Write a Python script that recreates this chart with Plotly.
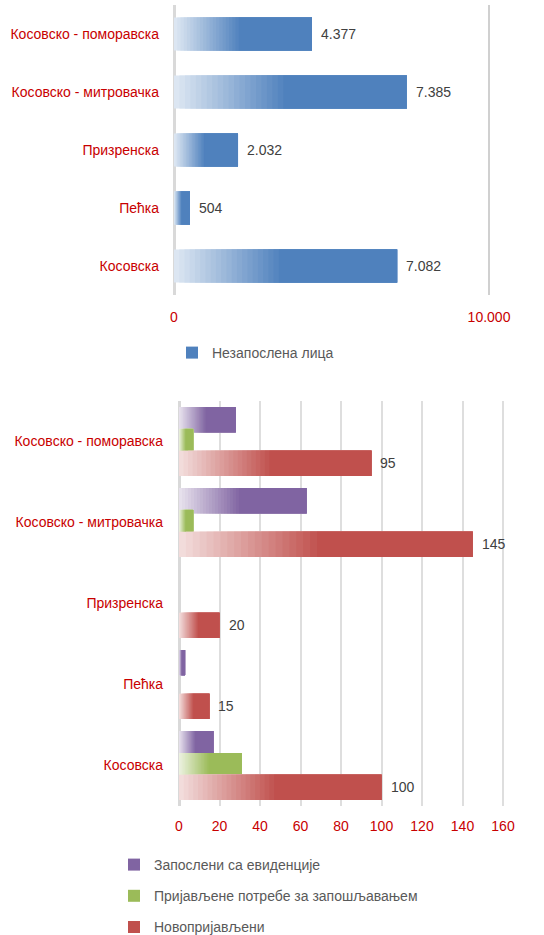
import plotly.graph_objects as go

# ---------------- data ----------------
regions = ["Косовско - поморавска", "Косовско - митровачка", "Призренска", "Пећка", "Косовска"]
unemployed = [4377, 7385, 2032, 504, 7082]          # Незапослена лица
employed_from_register = [28, 63, 0, 3, 17]         # Запослени са евиденције
registered_needs = [7, 7, 0, 0, 31]                 # Пријављене потребе за запошљавањем
newly_registered = [95, 145, 20, 15, 100]           # Новопријављени

top_ticks = [0, 10000]
bottom_ticks = [0, 20, 40, 60, 80, 100, 120, 140, 160]

# ---------------- style ----------------
W, H = 544, 935
FONT = "Liberation Sans, Arial, sans-serif"
FS = 14
RED_TXT = "#c80000"
GRAY_TXT = "#595959"
VAL_TXT = "#404040"
N_GRAD = 20
GRAD_FRAC = 0.47


def hex2rgb(h):
    h = h.lstrip("#")
    return tuple(int(h[i:i + 2], 16) for i in (0, 2, 4))


def blend(c1, c2, t):
    a, b = hex2rgb(c1), hex2rgb(c2)
    return "#%02x%02x%02x" % tuple(round(a[i] + (b[i] - a[i]) * t) for i in range(3))


def fmt(v):
    return f"{v:,}".replace(",", ".")


def px_x(p):
    return p / W


def px_y(p):
    return 1 - p / H


fig = go.Figure()


def gradient_bars(vals, light, solid, xaxis, yaxis, width, offset, name, legend, group):
    # each layer starts further right and runs to the bar end, so later layers
    # cover earlier ones without seams
    step = GRAD_FRAC / N_GRAD
    for k in range(N_GRAD):
        col = blend(light, solid, k / N_GRAD)
        fig.add_trace(go.Bar(
            y=regions, x=[v * (1 - step * k) for v in vals], base=[v * step * k for v in vals],
            orientation="h", width=width, offset=offset,
            marker=dict(color=col, line=dict(width=0)),
            xaxis=xaxis, yaxis=yaxis, showlegend=False, legendgroup=group,
            hoverinfo="skip"))
    fig.add_trace(go.Bar(
        y=regions, x=[v * (1 - GRAD_FRAC) for v in vals], base=[v * GRAD_FRAC for v in vals],
        orientation="h", width=width, offset=offset, name=name,
        marker=dict(color=solid, line=dict(width=0)),
        xaxis=xaxis, yaxis=yaxis, showlegend=True, legend=legend, legendgroup=group))


# top chart
gradient_bars(unemployed, "#dce6f2", "#4f81bd", "x", "y", 0.57, -0.285,
              "Незапослена лица", "legend", "u")

# bottom chart
BW = 0.31
gradient_bars(employed_from_register, "#e6e0ec", "#8064a2", "x2", "y2", BW, -0.425,
              "Запослени са евиденције", "legend2", "e")
gradient_bars(registered_needs, "#ebf1de", "#9bbb59", "x2", "y2", BW, -0.155,
              "Пријављене потребе за запошљавањем", "legend2", "n")
gradient_bars(newly_registered, "#f2dcdb", "#c0504d", "x2", "y2", BW, 0.115,
              "Новопријављени", "legend2", "r")

annotations = []
for i, v in enumerate(unemployed):
    annotations.append(dict(x=v, y=i, xref="x", yref="y", text=fmt(v), showarrow=False,
                            xanchor="left", xshift=7, font=dict(family=FONT, size=FS, color=VAL_TXT)))
for i, v in enumerate(newly_registered):
    annotations.append(dict(x=v, y=i + 0.27, xref="x2", yref="y2", text=fmt(v), showarrow=False,
                            xanchor="left", xshift=7, font=dict(family=FONT, size=FS, color=VAL_TXT)))

axis_font = dict(family=FONT, size=FS, color=RED_TXT)

fig.update_layout(
    width=W, height=H,
    margin=dict(l=0, r=0, t=0, b=0, autoexpand=False),
    paper_bgcolor="white", plot_bgcolor="white",
    barmode="overlay",
    separators=",.",
    font=dict(family=FONT, size=FS, color=GRAY_TXT),
    annotations=annotations,
    xaxis=dict(domain=[px_x(174), px_x(510)], range=[0, 10000 * 336 / 315],
               tickvals=top_ticks, tickformat=",", tickfont=axis_font,
               showgrid=True, gridcolor="#d0d0d0", gridwidth=2,
               zeroline=True, zerolinecolor="#d9d9d9", zerolinewidth=3,
               showline=False, ticks="", ticklabelstandoff=12, anchor="y",
               automargin=False),
    yaxis=dict(domain=[px_y(295), px_y(5)], autorange="reversed", type="category",
               tickfont=axis_font, showgrid=False, zeroline=False, showline=False,
               ticks="", ticklabelstandoff=14, anchor="x", automargin=False),
    xaxis2=dict(domain=[px_x(179), px_x(510)], range=[0, 160 * 331 / 324],
                tickvals=bottom_ticks, tickfont=axis_font,
                showgrid=True, gridcolor="#dedede", gridwidth=1.5,
                zeroline=True, zerolinecolor="#d9d9d9", zerolinewidth=3,
                showline=False, ticks="", ticklabelstandoff=10, anchor="y2",
                automargin=False),
    yaxis2=dict(domain=[px_y(806), px_y(401)], autorange="reversed", type="category",
                tickfont=axis_font, showgrid=False, zeroline=False, showline=False,
                ticks="", ticklabelstandoff=15, anchor="x2", automargin=False),
    legend=dict(orientation="h", x=px_x(172), y=px_y(353), xanchor="left", yanchor="middle",
                font=dict(family=FONT, size=FS, color=GRAY_TXT), bgcolor="rgba(0,0,0,0)"),
    legend2=dict(orientation="v", x=px_x(114), y=px_y(849), xanchor="left", yanchor="top",
                 font=dict(family=FONT, size=FS, color=GRAY_TXT), bgcolor="rgba(0,0,0,0)",
                 tracegroupgap=10, traceorder="grouped"),
)

fig.write_html("out.html", config={"displayModeBar": False},
               post_script="document.body.style.margin='0px';")
